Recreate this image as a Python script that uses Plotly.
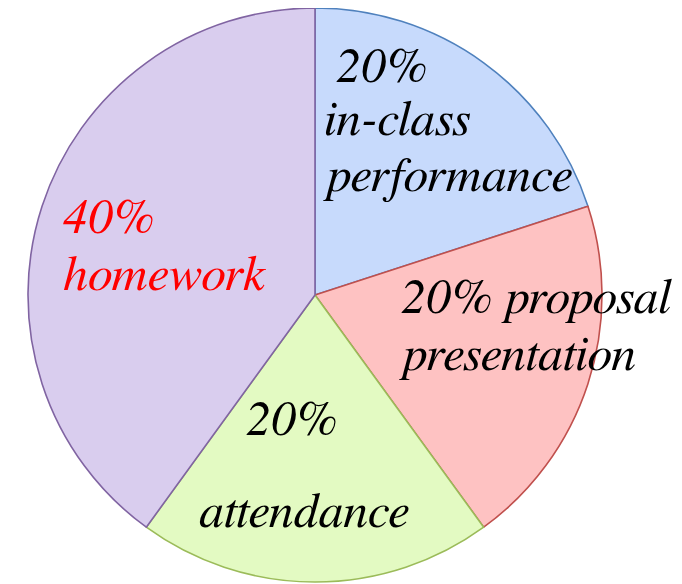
import plotly.graph_objects as go

categories = ["in-class performance", "proposal presentation", "attendance", "homework"]
values = [20, 20, 20, 40]
fill_colors = ["#c7dafc", "#fec2c2", "#e3fac2", "#d9cdee"]
line_colors = ["#4f81bd", "#c0504d", "#9bbb59", "#8064a2"]

W, H = 682, 584
OFF = 8  # page body margin offset

def px_x(px):
    return min(1.0, max(0.0, (px - OFF) / W))

def px_y(py):
    return min(1.0, max(0.0, 1 - (py - OFF) / H))

fig = go.Figure(go.Pie(
    labels=categories,
    values=values,
    sort=False,
    direction="clockwise",
    rotation=0,
    marker=dict(colors=fill_colors, line=dict(color=line_colors, width=1.6)),
    textinfo="none",
    hoverinfo="label+percent",
    showlegend=False,
    domain=dict(x=[px_x(27), px_x(603)], y=[px_y(582), px_y(8)]),
))

FONT = "FreeSerif, Liberation Serif, serif"
FS = 50

# label lines: (text, left x px, baseline y px, color)
label_lines = [
    ("20%", 335, 82, "black"),
    ("in-class", 323, 135, "black"),
    ("performance", 322, 192, "black"),
    ("40%", 62, 233, "red"),
    ("homework", 62, 290, "red"),
    ("20% proposal", 400, 313, "black"),
    ("presentation", 398, 370, "black"),
    ("20%", 245, 435, "black"),
    ("attendance", 198, 527, "black"),
]

for txt, px, base, col in label_lines:
    fig.add_annotation(
        text="<i>" + txt + "</i>", x=px_x(px), y=px_y(base - 0.3 * FS), xref="paper", yref="paper",
        xanchor="left", yanchor="middle", showarrow=False, borderpad=0,
        font=dict(family=FONT, size=FS, color=col),
    )

fig.update_layout(
    width=W, height=H,
    margin=dict(l=0, r=0, t=0, b=0),
    paper_bgcolor="white", plot_bgcolor="white",
)

fig.write_html("out.html")
